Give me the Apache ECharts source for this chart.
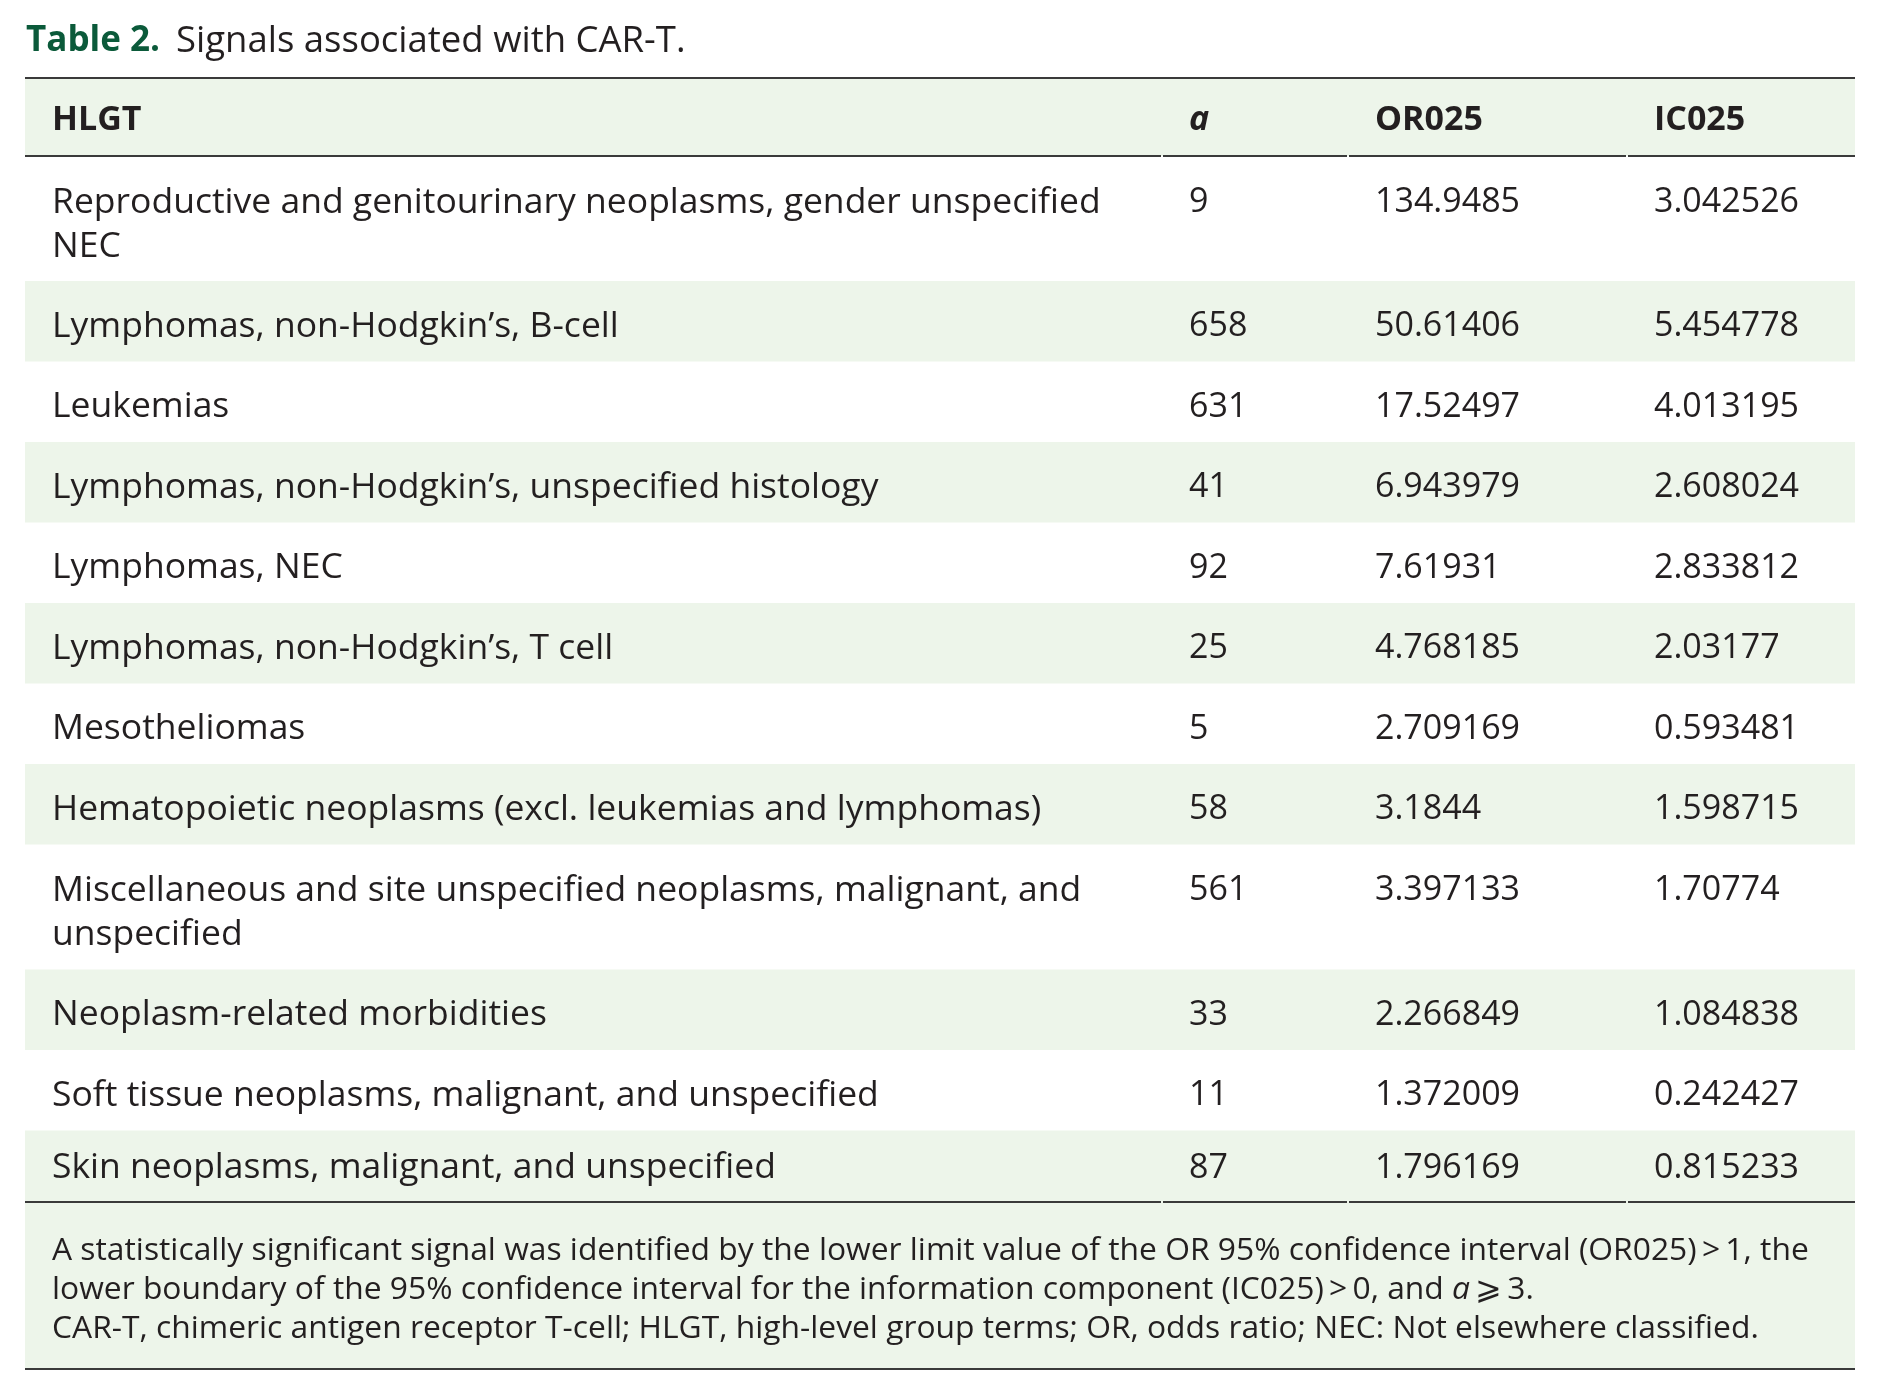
<!DOCTYPE html>
<html>
<head>
<meta charset="utf-8">
<script src="https://cdn.jsdelivr.net/npm/echarts@6/dist/echarts.min.js"></script>
<style>
html, body { margin: 0; padding: 0; background: #fff; }
#main { width: 1882px; height: 1396px; }
</style>
</head>
<body>
<div id="main"></div>
<script>
// table content
var headers = ['HLGT', 'a', 'OR025', 'IC025'];
var hlgt = [
    'Reproductive and genitourinary neoplasms, gender unspecified\nNEC',
    'Lymphomas, non-Hodgkin\u2019s, B-cell',
    'Leukemias',
    'Lymphomas, non-Hodgkin\u2019s, unspecified histology',
    'Lymphomas, NEC',
    'Lymphomas, non-Hodgkin\u2019s, T cell',
    'Mesotheliomas',
    'Hematopoietic neoplasms (excl. leukemias and lymphomas)',
    'Miscellaneous and site unspecified neoplasms, malignant, and\nunspecified',
    'Neoplasm-related morbidities',
    'Soft tissue neoplasms, malignant, and unspecified',
    'Skin neoplasms, malignant, and unspecified'
];
var aCount = [9, 658, 631, 41, 92, 25, 5, 58, 561, 33, 11, 87];
var or025 = [134.9485, 50.61406, 17.52497, 6.943979, 7.61931, 4.768185, 2.709169, 3.1844, 3.397133, 2.266849, 1.372009, 1.796169];
var ic025 = [3.042526, 5.454778, 4.013195, 2.608024, 2.833812, 2.03177, 0.593481, 1.598715, 1.70774, 1.084838, 0.242427, 0.815233];
var footnote = [
    'A statistically significant signal was identified by the lower limit value of the OR 95% confidence interval (OR025)\u2009>\u20091, the',
    'lower boundary of the 95% confidence interval for the information component (IC025)\u2009>\u20090, and {i|a}\u2009\u2A7E\u20093.',
    'CAR-T, chimeric antigen receptor T-cell; HLGT, high-level group terms; OR, odds ratio; NEC: Not elsewhere classified.'
];

// layout (px inside the grid)
var FONT = '"Open Sans", Roboto, "DejaVu Sans", sans-serif';
var INK = '#231f20';
var BAND = '#edf5ea';
var RULE = '#3a3a3a';
var tableW = 1830, tableH = 1291;
var colStart = [0, 1137, 1323, 1602];
var pad = 27;
var headH = 78, lineH = 80.5, extraLine = 44.5, lastCut = 9, footH = 167;
var labelSize = 35.5, numSize = 34, footSize = 31.8;

// row tops/bottoms worked out from the number of lines in each label
var rows = [];
var y = headH;
hlgt.forEach(function (name, i) {
    var n = name.split('\n').length;
    var h = lineH + (n - 1) * extraLine - (i === hlgt.length - 1 ? lastCut : 0);
    rows.push([i, y, y + h]);
    y += h;
});
var bodyEnd = y;

var myChart = echarts.init(document.getElementById('main'));

function txt(api, x, yy, text, opt) {
    var p = api.coord([x, yy]);
    opt = opt || {};
    return {
        type: 'text',
        style: {
            x: p[0], y: p[1] + (opt.dy || 0),
            text: text,
            fill: INK,
            font: (opt.italic ? 'italic ' : '') + (opt.bold ? 'bold ' : '') + (opt.size || numSize) + 'px ' + FONT,
            lineHeight: opt.lh || 44,
            verticalAlign: 'middle',
            align: 'left',
            rich: opt.rich
        }
    };
}

function band(api, y0, y1, color) {
    var a = api.coord([0, y0]), b = api.coord([tableW, y1]);
    return { type: 'rect', shape: { x: a[0], y: a[1], width: b[0] - a[0], height: b[1] - a[1] }, style: { fill: color } };
}

function rule(api, yy, broken) {
    var out = [];
    var edges = broken ? colStart.concat([tableW]) : [0, tableW];
    for (var k = 0; k < edges.length - 1; k++) {
        var a = api.coord([edges[k] + (k > 0 ? 1 : 0), yy]);
        var b = api.coord([edges[k + 1] - (k < edges.length - 2 ? 1 : 0), yy]);
        out.push({ type: 'line', shape: { x1: a[0], y1: a[1], x2: b[0], y2: b[1] }, style: { stroke: RULE, lineWidth: 2 } });
    }
    return out;
}

option = {
    backgroundColor: '#fff',
    animation: false,
    title: {
        left: 21,
        top: 18,
        text: '{b|Table 2.}  {n|Signals associated with CAR-T.}',
        textStyle: {
            rich: {
                b: { fontFamily: FONT, fontWeight: 'bold', fontSize: 35, color: '#0b5a3a' },
                n: { fontFamily: FONT, fontWeight: 'normal', fontSize: 36.5, color: INK, padding: [0, 0, 0, 6] }
            }
        }
    },
    grid: { left: 25, top: 78, width: tableW, height: tableH },
    xAxis: { type: 'value', min: 0, max: tableW, show: false },
    yAxis: { type: 'value', min: 0, max: tableH, inverse: true, show: false },
    series: [
        {
            // header
            type: 'custom',
            data: [[0]],
            renderItem: function (params, api) {
                var kids = [band(api, 0, headH, BAND)];
                headers.forEach(function (h, c) {
                    kids.push(txt(api, colStart[c] + pad, headH / 2, h, { bold: true, italic: c === 1, dy: 3 }));
                });
                return { type: 'group', children: kids.concat(rule(api, 0, false), rule(api, headH, true)) };
            }
        },
        {
            // body rows
            type: 'custom',
            data: rows,
            renderItem: function (params, api) {
                var i = api.value(0), y0 = api.value(1), y1 = api.value(2);
                var mid = (y0 + y1) / 2;
                var kids = [];
                if (i % 2 === 1) kids.push(band(api, y0, y1, BAND));
                var n = hlgt[i].split('\n').length;
                var dy = n > 1 ? 6 : 5.5;
                if (i === hlgt.length - 1) dy = 2;
                kids.push(txt(api, colStart[0] + pad, mid, hlgt[i], { dy: dy, size: labelSize }));
                // values sit on the first line of the label
                var firstLine = mid - (n - 1) * extraLine / 2;
                kids.push(txt(api, colStart[1] + pad, firstLine, String(aCount[i]), { dy: dy }));
                kids.push(txt(api, colStart[2] + pad, firstLine, String(or025[i]), { dy: dy }));
                kids.push(txt(api, colStart[3] + pad, firstLine, String(ic025[i]), { dy: dy }));
                return { type: 'group', children: kids };
            }
        },
        {
            // footnote
            type: 'custom',
            data: [[bodyEnd]],
            renderItem: function (params, api) {
                var y0 = api.value(0);
                var kids = [band(api, y0, y0 + footH, BAND)];
                kids.push(txt(api, colStart[0] + pad, y0 + footH / 2, footnote.join('\n'), {
                    size: footSize, lh: 39, dy: 4,
                    rich: { i: { fontFamily: FONT, fontStyle: 'italic', fontSize: footSize, color: INK } }
                }));
                return { type: 'group', children: kids.concat(rule(api, y0, true), rule(api, y0 + footH, false)) };
            }
        }
    ]
};
myChart.setOption(option);
</script>
</body>
</html>
